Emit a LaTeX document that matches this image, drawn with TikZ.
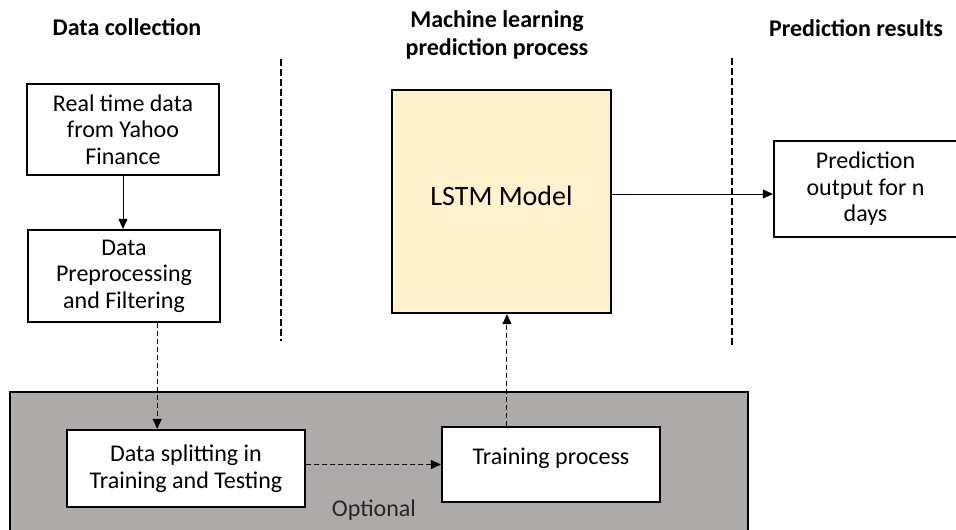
\documentclass[tikz,border=0pt]{standalone}
\usepackage{fontspec}
\setmainfont{Carlito}
\usetikzlibrary{arrows.meta,calc}
\definecolor{lstmfill}{RGB}{255,242,204}
\definecolor{optgray}{RGB}{174,170,170}
\begin{document}
\begin{tikzpicture}[x=0.5pt,y=-0.5pt,
  box/.style={draw=black,line width=1.1pt,fill=white,align=center,inner sep=0pt,
    font=\fontsize{12}{13.3}\selectfont},
  hdr/.style={font=\bfseries\fontsize{12}{14}\selectfont,align=center},
  sep/.style={line width=1.3pt,dash pattern=on 3.5pt off 1.5pt},
  arr/.style={line width=0.5pt,-{Triangle[length=5pt,width=4.5pt]}},
  darr/.style={arr,dash pattern=on 2.5pt off 1.5pt}]
\useasboundingbox (0,0) rectangle (956,529);
\clip (0,0) rectangle (956,529);
\fill[white] (0,0) rectangle (956,529);

% headers
\node[hdr] (h1) at (127,27) {Data collection};
\node[hdr] (h2) at (497,35) {Machine learning\\prediction process};
\node[hdr] (h3) at (856,28) {Prediction results};

% separators
\coordinate (s1a) at (281,59);  \coordinate (s1b) at (281,341);
\coordinate (s2a) at (732,58);  \coordinate (s2b) at (732,347);
\draw[sep] (s1a) -- (s1b);
\draw[sep] (s2a) -- (s2b);

% optional region
\node[draw=black,line width=0.8pt,fill=optgray,minimum width=369pt,minimum height=74pt,inner sep=0pt] (opt) at (379,466) {};
\node[font=\fontsize{12}{13.3}\selectfont,text=black!85] (optl) at (374,510) {Optional};

% boxes
\node[box,minimum width=96pt,minimum height=45.5pt] (b1) at (123,129.5) {Real time data\\from Yahoo\\Finance};
\node[box,minimum width=96pt,minimum height=46pt] (b2) at (124,276) {Data\\Preprocessing\\and Filtering};
\node[box,fill=lstmfill,minimum width=109.5pt,minimum height=111.5pt,
  font=\fontsize{14}{16}\selectfont,text height=9.8pt,text depth=5.5pt] (lstm) at (501.5,201.5) {LSTM Model};
\node[box,minimum width=91.5pt,minimum height=48pt] (pred) at (865.5,189) {Prediction\\output for n\\days};
\node[box,minimum width=119pt,minimum height=38.5pt] (split) at (186,468.5) {Data splitting in\\Training and Testing};
\node[box,minimum width=109pt,minimum height=37.5pt,text height=8.4pt,text depth=8.1pt] (train) at (551,464.5) {Training process};

% connectors
\draw[arr] (b1.south) -- (b1.south |- b2.north);
\coordinate (sp) at ($(split.north west)!0.38!(split.north east)$);
\draw[darr] (sp |- b2.south) -- (sp);
\draw[darr] (split.east |- train.west) -- (train.west);
\coordinate (tp) at ($(train.north west)!0.3!(train.north east)$);
\draw[darr] (tp) -- (tp |- lstm.south);
\coordinate (pa) at ([yshift=-2.5pt]pred.west);
\draw[arr] (lstm.east |- pa) -- (pa);
\end{tikzpicture}
\end{document}
